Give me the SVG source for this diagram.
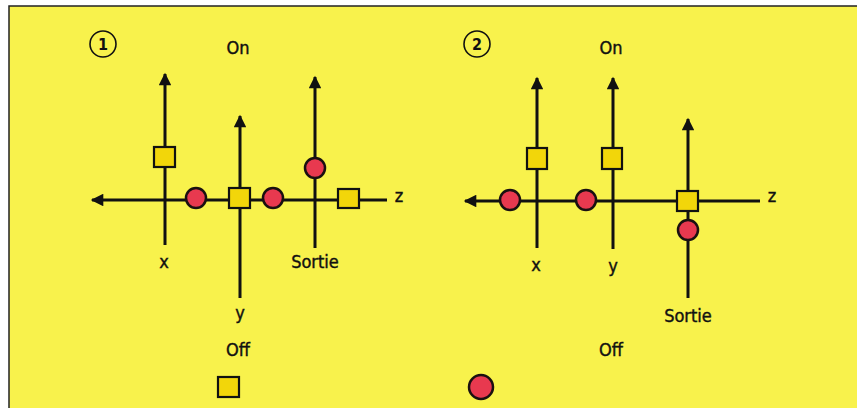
<svg xmlns="http://www.w3.org/2000/svg" width="857" height="408" viewBox="0 0 857 408">
<style>
.ax{stroke:#111;stroke-width:3;fill:none}
.sq{fill:#f2d60a;stroke:#111;stroke-width:2.2}
.ci{fill:#e8394f;stroke:#1a1010;stroke-width:2.5}
.t{font-family:"DejaVu Sans Condensed","Liberation Sans",sans-serif;font-size:18px;fill:#111;stroke:#111;stroke-width:0.4;text-anchor:middle}
.num{font-family:"DejaVu Sans Condensed","Liberation Sans",sans-serif;font-size:16px;font-weight:bold;fill:#111;text-anchor:middle}
</style>
<defs>
<marker id="ah" viewBox="0 0 10 10" refX="9" refY="5" markerWidth="4.6" markerHeight="4.2" orient="auto" markerUnits="strokeWidth">
<path d="M0,0 L10,5 L0,10 z" fill="#111"/>
</marker>
</defs>
<rect x="0" y="0" width="857" height="408" fill="#fff"/>
<rect x="9" y="6" width="860" height="410" fill="#f8f24c" stroke="#222" stroke-width="1.5"/>

<g id="connectors">
<line class="ax" x1="165" y1="245" x2="165" y2="74" marker-end="url(#ah)"/>
<line class="ax" x1="240" y1="298" x2="240" y2="116" marker-end="url(#ah)"/>
<line class="ax" x1="315" y1="248" x2="315" y2="77" marker-end="url(#ah)"/>
<line class="ax" x1="387" y1="200" x2="92" y2="200" marker-end="url(#ah)"/>
<line class="ax" x1="537" y1="248" x2="537" y2="78" marker-end="url(#ah)"/>
<line class="ax" x1="613" y1="249" x2="613" y2="78" marker-end="url(#ah)"/>
<line class="ax" x1="688" y1="298" x2="688" y2="119" marker-end="url(#ah)"/>
<line class="ax" x1="760" y1="201" x2="465" y2="201" marker-end="url(#ah)"/>
</g>

<g id="panel1">
<circle cx="103" cy="44" r="13" fill="none" stroke="#111" stroke-width="1.6"/>
<text class="num" x="103" y="50">1</text>
<text class="t" x="238" y="54">On</text>
<text class="t" x="164" y="268">x</text>
<text class="t" x="240" y="319">y</text>
<text class="t" x="315" y="268">Sortie</text>
<text class="t" x="399" y="202">z</text>
<text class="t" x="238" y="356">Off</text>
</g>
<g id="p1-x-square"><rect class="sq" x="154" y="147" width="21" height="20"/></g>
<g id="p1-c1"><circle class="ci" cx="196" cy="198" r="10"/></g>
<g id="p1-y-square"><rect class="sq" x="229" y="188" width="21" height="20"/></g>
<g id="p1-c2"><circle class="ci" cx="273" cy="198" r="10"/></g>
<g id="p1-s-circle"><circle class="ci" cx="315" cy="168" r="10"/></g>
<g id="p1-z-square"><rect class="sq" x="338" y="189" width="21" height="19"/></g>
<g id="p1-off-square"><rect class="sq" x="218" y="377" width="21" height="20"/></g>

<g id="panel2">
<circle cx="477" cy="44" r="13" fill="none" stroke="#111" stroke-width="1.6"/>
<text class="num" x="477" y="50">2</text>
<text class="t" x="611" y="54">On</text>
<text class="t" x="536" y="271">x</text>
<text class="t" x="613" y="272">y</text>
<text class="t" x="688" y="322">Sortie</text>
<text class="t" x="772" y="202">z</text>
<text class="t" x="611" y="356">Off</text>
</g>
<g id="p2-x-square"><rect class="sq" x="527" y="148" width="20" height="21"/></g>
<g id="p2-y-square"><rect class="sq" x="602" y="148" width="20" height="21"/></g>
<g id="p2-s-square"><rect class="sq" x="677" y="191" width="21" height="20"/></g>
<g id="p2-c1"><circle class="ci" cx="510" cy="200" r="10"/></g>
<g id="p2-c2"><circle class="ci" cx="586" cy="200" r="10"/></g>
<g id="p2-s-circle"><circle class="ci" cx="688" cy="230" r="10"/></g>
<g id="p2-off-circle"><circle class="ci" cx="481" cy="387" r="12"/></g>
</svg>
